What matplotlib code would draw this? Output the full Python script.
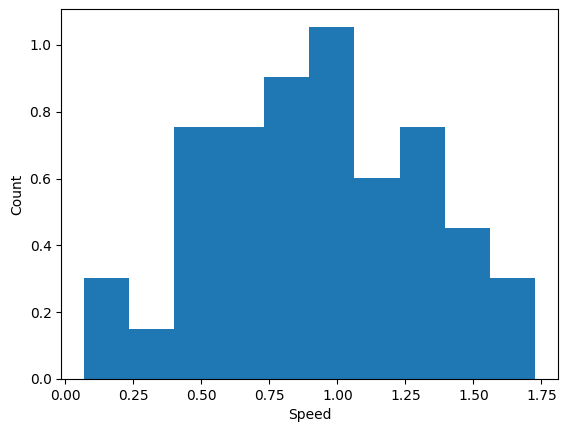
import numpy as np
import matplotlib
matplotlib.use('Agg')
import matplotlib.pyplot as plt

# Bin edges and density heights
bin_edges = [0.068, 0.234, 0.400, 0.566, 0.731, 0.897, 1.063, 1.229, 1.395, 1.561, 1.727]
heights = [0.3015, 0.1507, 0.754, 0.754, 0.904, 1.055, 0.603, 0.754, 0.452, 0.3015]

fig = plt.figure(figsize=(5.67, 4.32), dpi=100)
ax = fig.add_axes([0.108, 0.1227, 0.8756, 0.8565])

ax.hist(bin_edges[:-1], bins=bin_edges, weights=heights, color='#1f77b4')

ax.set_xlabel('Speed')
ax.set_ylabel('Count')

fig.savefig('out.png', dpi=100)
